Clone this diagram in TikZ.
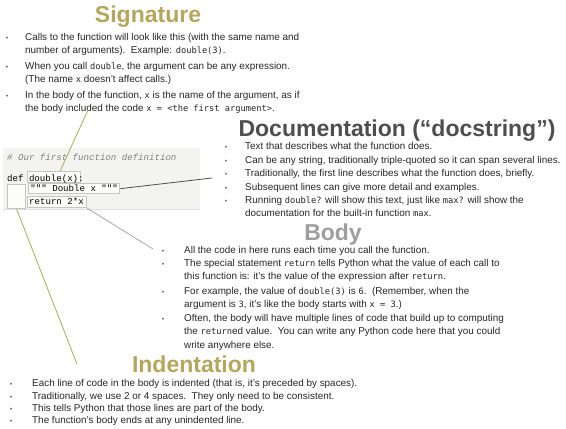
\documentclass[tikz,border=0pt]{standalone}
\usepackage{fontspec}
\setmainfont{Liberation Sans}
\newfontfamily\codefont[Scale=0.88]{DejaVu Sans Mono}
\newfontfamily\panelfont{Liberation Mono}
\usetikzlibrary{positioning}

\definecolor{sigolive}{RGB}{180,166,92}
\definecolor{docgray}{RGB}{78,78,78}
\definecolor{bodygray}{RGB}{158,158,158}
\definecolor{txtgray}{RGB}{38,38,38}
\definecolor{panelbg}{RGB}{243,243,241}

\newcommand{\code}[1]{{\codefont #1}}
% one bullet: name, dot x, text x, first baseline y, extra lines, text
\newcommand{\bulitem}[6]{%
  \node[bulletdot] (#1dot) at (#2,#4) {\textbullet};
  \node[bultext] (#1) at (#3,#4+#5*13.8) {#6};}

\tikzstyle{heading} = [font=\fontsize{23}{23}\selectfont\bfseries, anchor=base, inner sep=0pt]
\tikzstyle{bultext} = [anchor=base west, inner sep=0pt, align=left, text=txtgray,
                       font=\fontsize{9.9}{13.8}\selectfont]
\tikzstyle{bulletdot} = [anchor=base, inner sep=0pt, text=gray!80!black, font=\fontsize{7}{7}\selectfont]
\tikzstyle{codeline} = [anchor=base west, inner sep=0pt, font=\panelfont\fontsize{9.1}{9.1}\selectfont]
\tikzstyle{hlbox} = [draw=gray!45, line width=1.3pt, fill=white!75!panelbg, anchor=north west,
                     inner sep=0pt]

\begin{document}
\begin{tikzpicture}[x=1pt, y=-1pt]
  \useasboundingbox[fill=white] (0,0) rectangle (566,429);

  % headings
  \node[heading, text=sigolive] (sighead) at (148,22) {Signature};
  \node[heading, text=docgray] (dochead) at (397,136) {Documentation (“docstring”)};
  \node[heading, text=bodygray] (bodyhead) at (333,240) {Body};
  \node[heading, text=sigolive] (indhead) at (194,372) {Indentation};

  % signature
  \bulitem{sig1}{7}{25}{40}{1}{Calls to the function will look like this (with the same name and\\
    number of arguments).\ \ Example: \code{double(3)}.}
  \bulitem{sig2}{7}{25}{69}{1}{When you call \code{double}, the argument can be any expression.\\
    (The name \code{x} doesn't affect calls.)}
  \bulitem{sig3}{7}{25}{98}{1}{In the body of the function, \code{x} is the name of the argument, as if\\
    the body included the code \code{x = <the first argument>}.}

  % documentation
  \bulitem{doc1}{226}{245}{149}{0}{Text that describes what the function does.}
  \bulitem{doc2}{226}{245}{163}{0}{Can be any string, traditionally triple-quoted so it can span several lines.}
  \bulitem{doc3}{226}{245}{176}{0}{Traditionally, the first line describes what the function does, briefly.}
  \bulitem{doc4}{226}{245}{190}{0}{Subsequent lines can give more detail and examples.}
  \bulitem{doc5}{226}{245}{203}{1}{Running \code{double?} will show this text, just like \code{max?} will show the\\
    documentation for the built-in function \code{max}.}

  % body
  \bulitem{body1}{163}{184}{253}{0}{All the code in here runs each time you call the function.}
  \bulitem{body2}{163}{184}{266}{1}{The special statement \code{return} tells Python what the value of each call to\\
    this function is: it's the value of the expression after \code{return}.}
  \bulitem{body3}{163}{184}{294}{1}{For example, the value of \code{double(3)} is \code{6}.\ \ (Remember, when the\\
    argument is \code{3}, it's like the body starts with \code{x = 3}.)}
  \bulitem{body4}{163}{184}{321}{2}{Often, the body will have multiple lines of code that build up to computing\\
    the \code{return}ed value.\ \ You can write any Python code here that you could\\
    write anywhere else.}

  % indentation
  \bulitem{ind1}{11}{32}{386}{0}{Each line of code in the body is indented (that is, it's preceded by spaces).}
  \bulitem{ind2}{11}{32}{399}{0}{Traditionally, we use 2 or 4 spaces.\ \ They only need to be consistent.}
  \bulitem{ind3}{11}{32}{411}{0}{This tells Python that those lines are part of the body.}
  \bulitem{ind4}{11}{32}{423}{0}{The function's body ends at any unindented line.}

  % code panel
  \fill[panelbg] (3,148) rectangle (200,209);
  \draw[gray!25, line width=0.6pt] (3,209) -- (200,209);
  \node[hlbox, minimum width=53pt, minimum height=11pt] (sigbox) at (27,171) {};
  \node[hlbox, minimum width=59pt, minimum height=11pt] (retbox) at (27,196) {};
  \node[hlbox, minimum width=18pt, minimum height=24pt] (indbox) at (7,184) {};
  \node[codeline, text=gray, font=\panelfont\itshape\fontsize{9.1}{9.1}\selectfont] (comment) at (7,160)
    {\# Our first function definition};
  \node[codeline] (defline) at (7,181) {def double(x):};
  \node[codeline] (retline) at (29,204) {return 2*x};
  \node[hlbox, minimum width=91pt, minimum height=10pt, font=\panelfont\fontsize{9.1}{9.1}\selectfont]
    (docbox) at (28,183) {""" Double x """};

  % connectors
  \coordinate (sigend) at (88,110);
  \coordinate (docend) at (212,178);
  \coordinate (bodyend) at (153,249);
  \coordinate (indend) at (77,364);
  \draw[sigolive, line width=0.8pt] ([xshift=6pt]sigbox.north) -- (sigend);
  \draw[docgray, line width=0.8pt] (docbox.east) -- (docend);
  \draw[bodygray, line width=0.7pt] (retbox.south east) -- (bodyend);
  \draw[sigolive, line width=0.8pt] (indbox.south) -- (indend);
\end{tikzpicture}
\end{document}
